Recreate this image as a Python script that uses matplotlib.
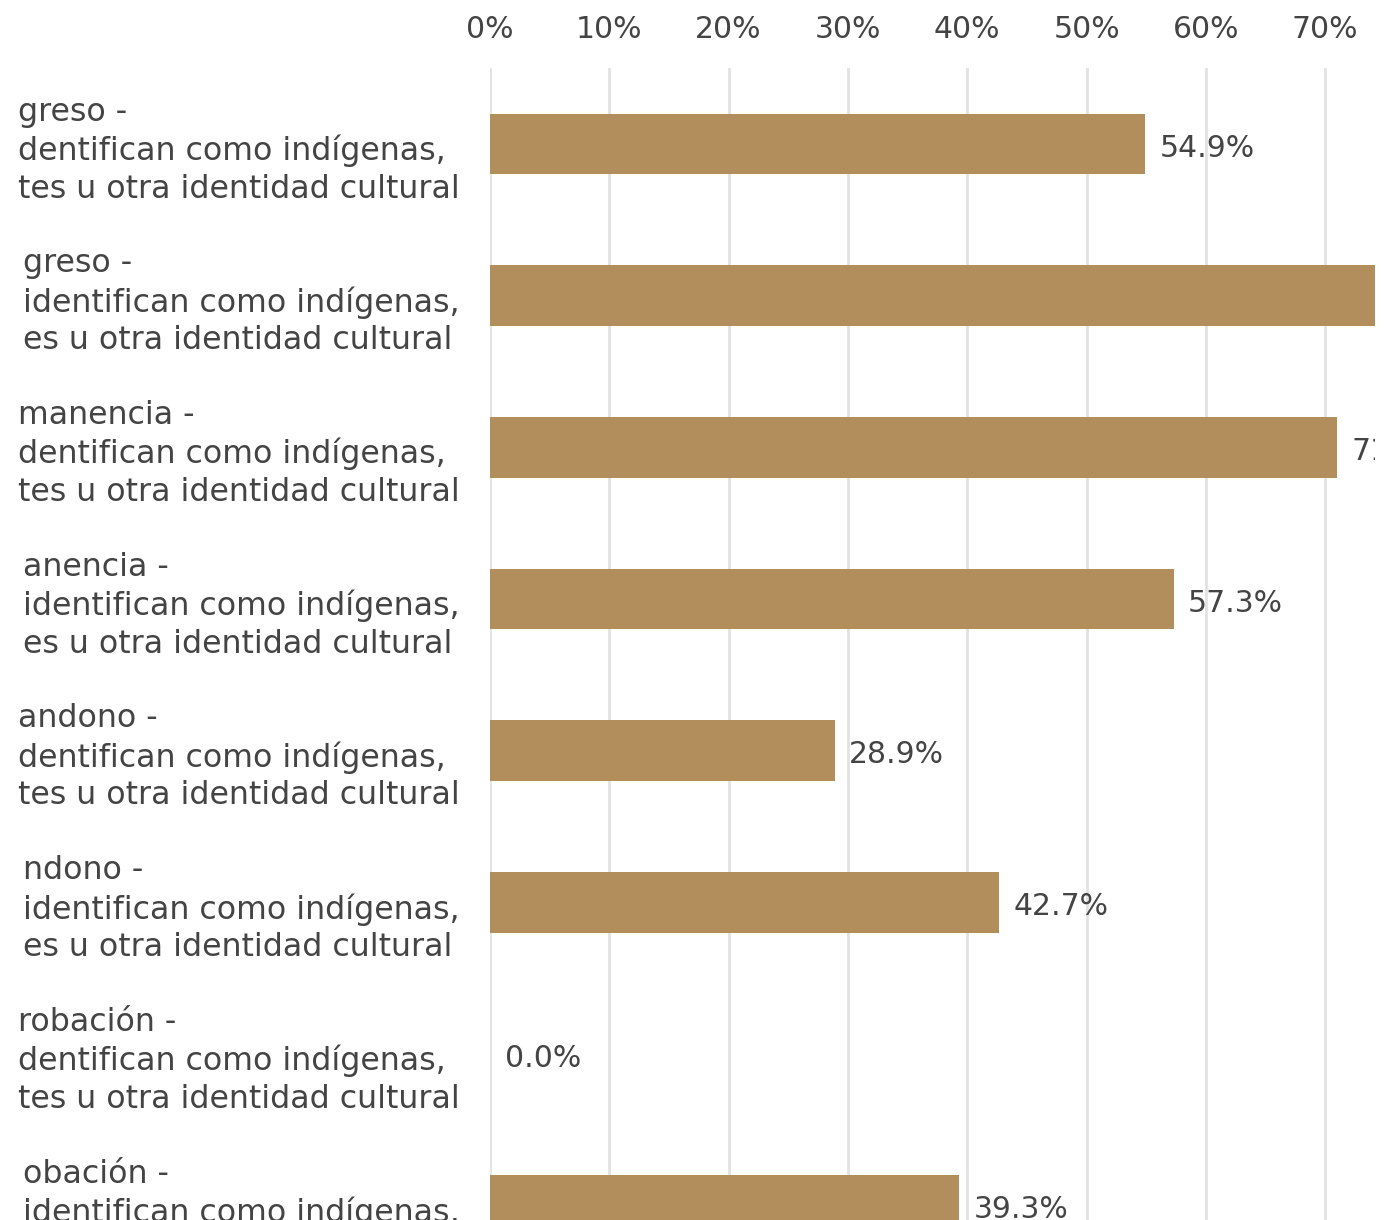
import matplotlib
matplotlib.use("Agg")
import matplotlib.pyplot as plt
from matplotlib.transforms import offset_copy

# Datos (recorte de la gráfica original)
categorias = [
    "greso -\ndentifican como indígenas,\ntes u otra identidad cultural",
    "greso -\nidentifican como indígenas,\nes u otra identidad cultural",
    "manencia -\ndentifican como indígenas,\ntes u otra identidad cultural",
    "anencia -\nidentifican como indígenas,\nes u otra identidad cultural",
    "andono -\ndentifican como indígenas,\ntes u otra identidad cultural",
    "ndono -\nidentifican como indígenas,\nes u otra identidad cultural",
    "robación -\ndentifican como indígenas,\ntes u otra identidad cultural",
    "obación -\nidentifican como indígenas,\nes u otra identidad cultural",
]
valores = [54.9, 76.5, 71.0, 57.3, 28.9, 42.7, 0.0, 39.3]
ticks_x = [0, 10, 20, 30, 40, 50, 60, 70]
etiquetas_x = ["0%", "10%", "20%", "30%", "40%", "50%", "60%", "70%"]

COLOR_BARRA = "#B38E5D"
COLOR_TEXTO = "#444444"
COLOR_GRID = "#E2E2E2"

plt.rcParams["font.family"] = ["DejaVu Sans"]

W, H = 1395, 1220
x0, x1 = 490, 1375          # pixeles del 0% y del borde derecho del area
px_pct = 11.93              # pixeles por punto porcentual
arriba = 68
paso = 151.7
n = len(valores)

fig = plt.figure(figsize=(W / 100, H / 100), dpi=100)
alto = paso * n
ax = fig.add_axes([x0 / W, (H - arriba - alto) / H, (x1 - x0) / W, alto / H])

ax.barh(range(n), valores, height=0.4, color=COLOR_BARRA, zorder=2)
ax.set_xlim(0, (x1 - x0) / px_pct)
ax.set_ylim(n - 0.5, -0.5)

ax.set_xticks(ticks_x)
ax.set_xticklabels(etiquetas_x)
ax.xaxis.tick_top()
ax.set_yticks(range(n))
ax.set_yticklabels(categorias, ha="right", multialignment="left", linespacing=1.27)

ax.tick_params(axis="x", length=0, pad=17.5, labelsize=21.5, labelcolor=COLOR_TEXTO)
ax.tick_params(axis="y", length=0, pad=22, labelsize=22.8, labelcolor=COLOR_TEXTO)

ax.grid(axis="x", color=COLOR_GRID, lw=2, zorder=0)
ax.set_axisbelow(True)
for s in ax.spines.values():
    s.set_visible(False)

# etiquetas de valor, recortadas en el borde del area como en el original
trans = offset_copy(ax.transData, fig=fig, x=10.5, y=-3, units="points")
for i, v in enumerate(valores):
    ax.text(v, i, f"{v:.1f}%", transform=trans, va="center", ha="left",
            fontsize=21.5, color=COLOR_TEXTO, zorder=3, clip_on=True)

fig.savefig("out.png", dpi=100)
